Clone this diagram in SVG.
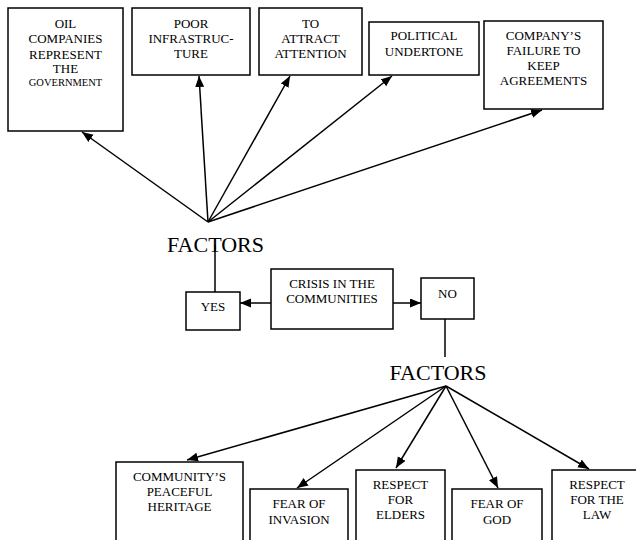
<svg xmlns="http://www.w3.org/2000/svg" width="636" height="540" viewBox="0 0 636 540">
  <style>
    .box { fill: #ffffff; stroke: #000000; stroke-width: 1.5; }
    text { font-family: 'Liberation Serif', 'Times New Roman', Times, 'DejaVu Serif', serif; fill: #000000; text-anchor: middle; }
    .lbl { font-size: 13px; }
    .big { font-size: 22px; }
    .edge { fill: none; stroke: #000000; stroke-width: 1.5; }
    .arr { marker-end: url(#head); }
  </style>
  <defs>
    <marker id="head" markerUnits="userSpaceOnUse" markerWidth="12" markerHeight="10" refX="11" refY="4.5" orient="auto">
      <path d="M0,0 L11,4.5 L0,9 z" fill="#000000"/>
    </marker>
  </defs>
  <rect width="636" height="540" fill="#ffffff"/>

  <!-- upper factor boxes -->
  <g id="oil-companies">
    <rect class="box" x="8" y="8" width="115" height="123"/>
    <text class="lbl" x="65.5" y="28">OIL</text>
    <text class="lbl" x="65.5" y="43">COMPANIES</text>
    <text class="lbl" x="65.5" y="58.5">REPRESENT</text>
    <text class="lbl" x="65.5" y="73">THE</text>
    <text class="lbl" x="65.5" y="86" style="font-size:10.5px">GOVERNMENT</text>
  </g>
  <g id="poor-infrastructure">
    <rect class="box" x="132" y="8" width="118" height="67"/>
    <text class="lbl" x="191" y="28">POOR</text>
    <text class="lbl" x="191" y="43">INFRASTRUC-</text>
    <text class="lbl" x="191" y="58">TURE</text>
  </g>
  <g id="attract-attention">
    <rect class="box" x="259" y="8" width="103" height="67"/>
    <text class="lbl" x="310.5" y="28">TO</text>
    <text class="lbl" x="310.5" y="43">ATTRACT</text>
    <text class="lbl" x="310.5" y="58">ATTENTION</text>
  </g>
  <g id="political-undertone">
    <rect class="box" x="369" y="22" width="110" height="53"/>
    <text class="lbl" x="424" y="40">POLITICAL</text>
    <text class="lbl" x="424" y="55.5">UNDERTONE</text>
  </g>
  <g id="company-failure">
    <rect class="box" x="484" y="21" width="119" height="88"/>
    <text class="lbl" x="543.5" y="39.5">COMPANY’S</text>
    <text class="lbl" x="543.5" y="55">FAILURE TO</text>
    <text class="lbl" x="543.5" y="70">KEEP</text>
    <text class="lbl" x="543.5" y="85">AGREEMENTS</text>
  </g>

  <!-- hubs and central row -->
  <g id="factors-yes">
    <text class="big" x="215.5" y="251.7">FACTORS</text>
  </g>
  <g id="yes">
    <rect class="box" x="186" y="292" width="54" height="38"/>
    <text class="lbl" x="213" y="310.7">YES</text>
  </g>
  <g id="crisis">
    <rect class="box" x="271" y="269" width="122" height="60"/>
    <text class="lbl" x="332" y="288.3">CRISIS IN THE</text>
    <text class="lbl" x="332" y="303.3">COMMUNITIES</text>
  </g>
  <g id="no">
    <rect class="box" x="421" y="278" width="53" height="41"/>
    <text class="lbl" x="447.5" y="298.3">NO</text>
  </g>
  <g id="factors-no">
    <text class="big" x="438" y="380">FACTORS</text>
  </g>

  <!-- lower factor boxes -->
  <g id="peaceful-heritage">
    <rect class="box" x="116" y="462" width="127" height="90"/>
    <text class="lbl" x="179.5" y="481">COMMUNITY’S</text>
    <text class="lbl" x="179.5" y="496">PEACEFUL</text>
    <text class="lbl" x="179.5" y="510.7">HERITAGE</text>
  </g>
  <g id="fear-of-invasion">
    <rect class="box" x="250" y="489" width="98" height="60"/>
    <text class="lbl" x="299" y="508.3">FEAR OF</text>
    <text class="lbl" x="299" y="524">INVASION</text>
  </g>
  <g id="respect-elders">
    <rect class="box" x="356" y="470" width="89" height="80"/>
    <text class="lbl" x="400.5" y="489">RESPECT</text>
    <text class="lbl" x="400.5" y="504">FOR</text>
    <text class="lbl" x="400.5" y="519">ELDERS</text>
  </g>
  <g id="fear-of-god">
    <rect class="box" x="452" y="489" width="90" height="60"/>
    <text class="lbl" x="497" y="508.3">FEAR OF</text>
    <text class="lbl" x="497" y="524">GOD</text>
  </g>
  <g id="respect-law">
    <rect class="box" x="552" y="470" width="100" height="80"/>
    <text class="lbl" x="597" y="489">RESPECT</text>
    <text class="lbl" x="597" y="504">FOR THE</text>
    <text class="lbl" x="597" y="519">LAW</text>
  </g>

  <!-- connectors -->
  <g id="connectors">
    <line class="edge arr" x1="208" y1="222" x2="82" y2="132"/>
    <line class="edge arr" x1="208" y1="222" x2="199" y2="76"/>
    <line class="edge arr" x1="208" y1="222" x2="290" y2="76"/>
    <line class="edge arr" x1="208" y1="222" x2="392" y2="76"/>
    <line class="edge arr" x1="208" y1="222" x2="542" y2="110"/>
    <line class="edge" x1="215" y1="245" x2="215" y2="292"/>
    <line class="edge arr" x1="271" y1="303" x2="240" y2="303"/>
    <line class="edge arr" x1="393" y1="303" x2="421" y2="303"/>
    <line class="edge" x1="445" y1="319" x2="445" y2="357"/>
    <line class="edge arr" x1="446" y1="386" x2="187" y2="460"/>
    <line class="edge arr" x1="446" y1="386" x2="297" y2="488"/>
    <line class="edge arr" x1="446" y1="386" x2="396" y2="468"/>
    <line class="edge arr" x1="446" y1="386" x2="498" y2="488"/>
    <line class="edge arr" x1="446" y1="386" x2="589" y2="469"/>
  </g>
</svg>
